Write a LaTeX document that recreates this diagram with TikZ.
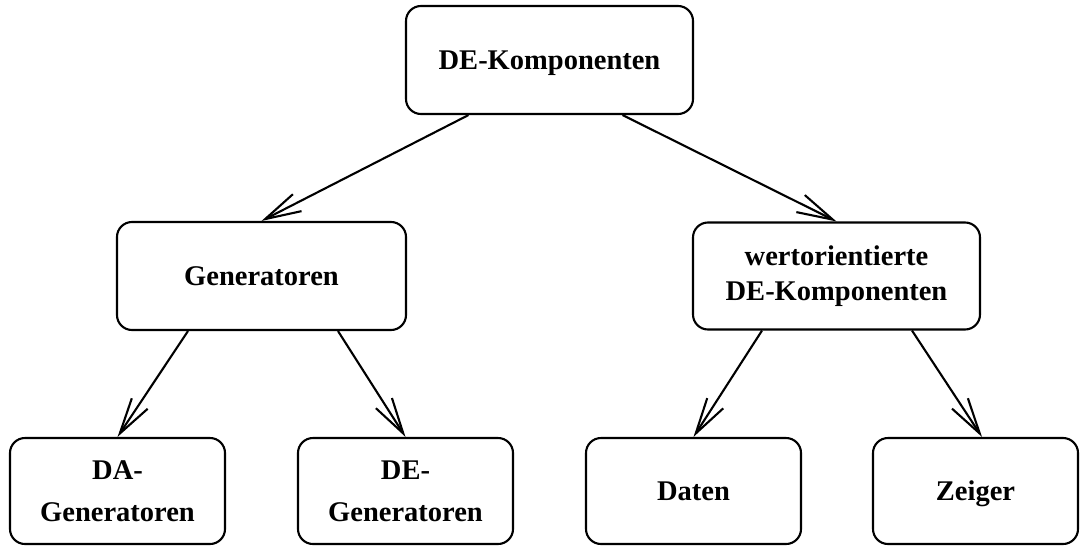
\documentclass[tikz,border=0pt]{standalone}
\usepackage{fontspec}
\setmainfont{Liberation Serif}
\usetikzlibrary{arrows.meta}
\begin{document}
\begin{tikzpicture}[x=1pt,y=-1pt,
  box/.style={draw, line width=2.1pt, rounded corners=15pt, rectangle,
    inner sep=0pt, align=center,
    font=\fontsize{28.5}{35}\selectfont\bfseries},
  widebox/.style={box, minimum width=287pt, minimum height=108pt},
  leafbox/.style={box, minimum width=215pt, minimum height=106pt,
    font=\fontsize{28.5}{42}\selectfont\bfseries},
  link/.style={line width=2.1pt,
    -{Straight Barb[length=36pt,width=19pt,line width=2.1pt]}}]
\useasboundingbox (0,0) rectangle (1081,546);

% hierarchy of the components
\node[widebox, text depth=0pt] (root) at (549.5,60) {DE-Komponenten};
\node[widebox, minimum width=289pt] (gen) at (261.5,276) {Generatoren};
\node[widebox, minimum height=107pt] (wert) at (836.5,276)
  {wertorientierte\\DE-Komponenten};
\node[leafbox] (dagen) at (117.5,491) {DA-\\Generatoren};
\node[leafbox] (degen) at (405.5,491) {DE-\\Generatoren};
\node[leafbox] (daten) at (693.5,491) {Daten};
\node[leafbox, minimum width=205pt, text depth=0pt] (zeiger) at (975.5,491) {Zeiger};

% connectors
\draw[link] ([xshift=-81pt]root.south) -- (gen.north);
\draw[link] ([xshift=73pt]root.south) -- (wert.north);
\draw[link] ([xshift=-73.5pt]gen.south) -- (dagen.north);
\draw[link] ([xshift=76.5pt]gen.south) -- (degen.north);
\draw[link] ([xshift=-74.5pt]wert.south) -- (daten.north);
\draw[link] ([xshift=75.5pt]wert.south) -- ([xshift=6.5pt]zeiger.north);
\end{tikzpicture}
\end{document}
